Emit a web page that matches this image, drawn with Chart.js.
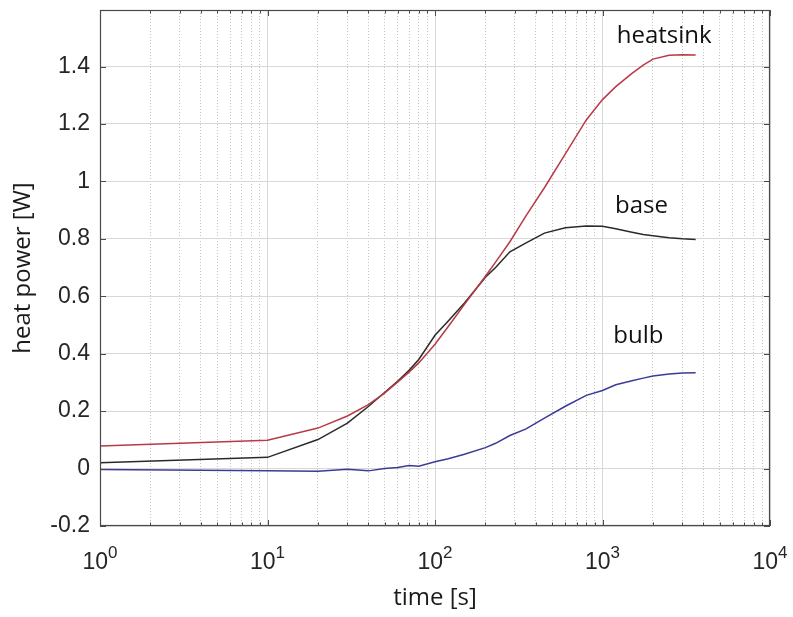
<!DOCTYPE html>
<html><head><meta charset="utf-8">
<script src="https://cdn.jsdelivr.net/npm/chart.js@4.4.1/dist/chart.umd.min.js"></script>
<style>html,body{margin:0;padding:0;background:#fff;}</style>
</head><body>
<canvas id="c" width="793" height="617"></canvas>
<script>
// ---- data ----
const times    = [1, 10, 20, 30, 40, 50, 60, 70, 80, 100, 120, 150, 200, 230, 280, 350, 450, 600, 800, 1000, 1200, 1500, 1750, 2000, 2500, 3000, 3600];
const heatsink = [0.079, 0.099, 0.141, 0.183, 0.223, 0.263, 0.302, 0.336, 0.368, 0.433, 0.495, 0.572, 0.670, 0.719, 0.790, 0.881, 0.978, 1.096, 1.214, 1.285, 1.330, 1.376, 1.405, 1.426, 1.439, 1.441, 1.440];
const base     = [0.020, 0.039, 0.101, 0.158, 0.216, 0.265, 0.305, 0.342, 0.380, 0.464, 0.514, 0.577, 0.666, 0.700, 0.755, 0.786, 0.820, 0.839, 0.845, 0.844, 0.835, 0.823, 0.815, 0.811, 0.804, 0.800, 0.798];
const bulb     = [-0.003, -0.008, -0.009, -0.002, -0.008, 0.000, 0.004, 0.011, 0.008, 0.024, 0.034, 0.050, 0.073, 0.088, 0.115, 0.138, 0.176, 0.217, 0.255, 0.272, 0.292, 0.306, 0.315, 0.322, 0.329, 0.333, 0.334];
const seriesNames = ['heatsink', 'base', 'bulb'];
const yTicks = [-0.2, 0, 0.2, 0.4, 0.6, 0.8, 1, 1.2, 1.4];
const yTickLabels = ['-0.2', '0', '0.2', '0.4', '0.6', '0.8', '1', '1.2', '1.4'];
const xMajorTicks = [1, 10, 100, 1000, 10000];
const xTickBase = '10';
const xTickExponents = ['0', '1', '2', '3', '4'];
const xMinorTicks = [2,3,4,5,6,7,8,9, 20,30,40,50,60,70,80,90, 200,300,400,500,600,700,800,900, 2000,3000,4000,5000,6000,7000,8000,9000];

const toPts = arr => times.map((t, i) => ({x: t, y: arr[i]}));

const labelPlugin = {
  id: 'seriesLabels',
  afterDatasetsDraw(chart) {
    const {ctx, scales: {x, y}} = chart;
    const anchors = [[1216, 1.481], [1188, 0.889], [1161, 0.436]];
    ctx.save();
    ctx.font = '24px "Open Sans"';
    ctx.fillStyle = '#111';
    ctx.textAlign = 'left';
    ctx.textBaseline = 'alphabetic';
    seriesNames.forEach((n, i) => {
      ctx.fillText(n, x.getPixelForValue(anchors[i][0]), y.getPixelForValue(anchors[i][1]));
    });
    ctx.restore();
  }
};

const framePlugin = {
  id: 'frame',
  afterDraw(chart) {
    const {ctx, chartArea: a, scales: {x, y}} = chart;
    ctx.save();
    ctx.strokeStyle = '#4a4a4a';
    ctx.lineWidth = 1.2;
    ctx.strokeRect(a.left + 0.5, a.top + 0.5, a.right - a.left - 1, a.bottom - a.top - 1);
    ctx.lineWidth = 1;
    ctx.beginPath();
    x.ticks.forEach(t => {
      const px = Math.round(x.getPixelForValue(t.value)) + 0.5;
      const len = xMajorTicks.includes(t.value) ? 6 : 3.5;
      ctx.moveTo(px, a.bottom); ctx.lineTo(px, a.bottom - len);
      ctx.moveTo(px, a.top); ctx.lineTo(px, a.top + len);
    });
    y.ticks.forEach(t => {
      const py = Math.round(y.getPixelForValue(t.value)) + 0.5;
      ctx.moveTo(a.left, py); ctx.lineTo(a.left + 6, py);
      ctx.moveTo(a.right, py); ctx.lineTo(a.right - 6, py);
    });
    ctx.stroke();
    // x tick labels: base with raised exponent
    ctx.fillStyle = '#262626';
    ctx.textAlign = 'left';
    ctx.textBaseline = 'alphabetic';
    const bigFont = '23px "Liberation Sans", Arial, sans-serif';
    const smallFont = '17px "Liberation Sans", Arial, sans-serif';
    xMajorTicks.forEach((v, i) => {
      const px = x.getPixelForValue(v);
      ctx.font = bigFont;
      const w1 = ctx.measureText(xTickBase).width;
      ctx.font = smallFont;
      const w2 = ctx.measureText(xTickExponents[i]).width;
      const start = px - (w1 + w2) / 2;
      ctx.font = bigFont;
      ctx.fillText(xTickBase, start, a.bottom + 43);
      ctx.font = smallFont;
      ctx.fillText(xTickExponents[i], start + w1, a.bottom + 32);
    });
    ctx.restore();
  }
};

new Chart(document.getElementById('c'), {
  type: 'line',
  data: {
    datasets: [
      {label: seriesNames[0], data: toPts(heatsink), borderColor: '#b83a46', borderWidth: 1.5, pointRadius: 0, tension: 0, fill: false},
      {label: seriesNames[1], data: toPts(base), borderColor: '#2a2a2a', borderWidth: 1.5, pointRadius: 0, tension: 0, fill: false},
      {label: seriesNames[2], data: toPts(bulb), borderColor: '#3b3b96', borderWidth: 1.5, pointRadius: 0, tension: 0, fill: false}
    ]
  },
  options: {
    responsive: false,
    animation: false,
    devicePixelRatio: 1,
    layout: {padding: {top: 10, right: 23, left: 0, bottom: 0}},
    plugins: {legend: {display: false}, tooltip: {enabled: false}},
    scales: {
      x: {
        type: 'logarithmic', position: 'bottom', min: 1, max: 10000,
        afterBuildTicks: s => { s.ticks = xMajorTicks.concat(xMinorTicks).sort((a, b) => a - b).map(v => ({value: v, major: xMajorTicks.includes(v)})); },
        afterFit: s => { s.height = 91; s.paddingLeft = 0; s.paddingRight = 0; s.paddingTop = 0; s.paddingBottom = 0; },
        ticks: {display: false},
        grid: {
          drawTicks: false, lineWidth: 1,
          color: c => (c.tick && xMajorTicks.includes(c.tick.value)) ? 'rgba(0,0,0,0)' : '#c2c2c2'
        },
        border: {display: false, dash: [1, 2]},
        title: {display: true, text: 'time [s]', color: '#1a1a1a', font: {family: '"Open Sans"', size: 24}, padding: {top: 0, bottom: 4}}
      },
      xMajor: {
        type: 'logarithmic', position: 'bottom', min: 1, max: 10000,
        afterBuildTicks: s => { s.ticks = xMajorTicks.map(v => ({value: v, major: true})); },
        afterFit: s => { s.height = 0; s.paddingLeft = 0; s.paddingRight = 0; s.paddingTop = 0; s.paddingBottom = 0; },
        ticks: {display: false},
        grid: {drawTicks: false, color: '#d8d8d8', lineWidth: 1},
        border: {display: false}
      },
      y: {
        type: 'linear', position: 'left', min: -0.2, max: 1.597,
        afterBuildTicks: s => { s.ticks = yTicks.map(v => ({value: v})); },
        afterFit: s => { s.width = 100; s.paddingLeft = 0; s.paddingRight = 0; s.paddingTop = 0; s.paddingBottom = 0; },
        ticks: {
          padding: 10,
          font: {family: '"Liberation Sans", Arial, sans-serif', size: 23},
          color: '#262626',
          callback: v => { const i = yTicks.indexOf(v); return i >= 0 ? yTickLabels[i] : ''; }
        },
        grid: {drawTicks: false, color: '#d8d8d8', lineWidth: 1},
        border: {display: false},
        title: {display: true, text: 'heat power [W]', color: '#1a1a1a', font: {family: '"Open Sans"', size: 24}, padding: {top: 9}}
      }
    }
  },
  plugins: [labelPlugin, framePlugin]
});
</script>
</body></html>
